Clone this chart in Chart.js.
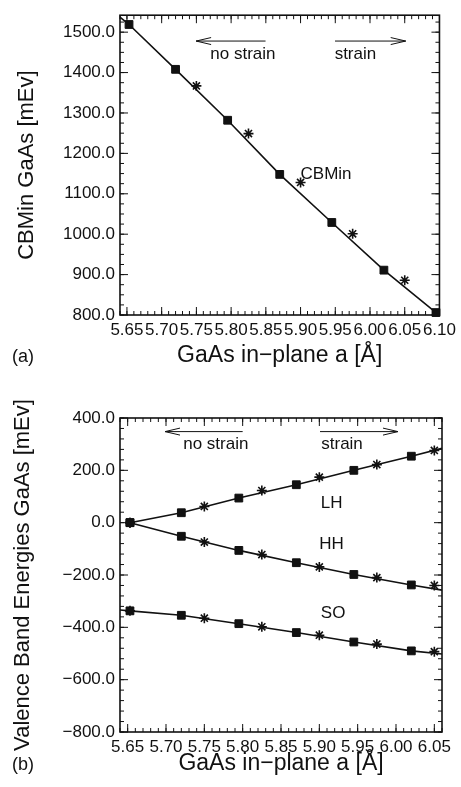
<!DOCTYPE html>
<html>
<head>
<meta charset="utf-8">
<script src="https://cdn.jsdelivr.net/npm/chart.js@4.4.0/dist/chart.umd.min.js"></script>
<style>
  html, body { margin: 0; padding: 0; background: #fff; }
  #wrapA { position: absolute; left: 0; top: 0; width: 461px; height: 385px; }
  #wrapB { position: absolute; left: 0; top: 385px; width: 461px; height: 402px; }
</style>
</head>
<body>
<div id="wrapA"><canvas id="chartA" width="461" height="385"></canvas></div>
<div id="wrapB"><canvas id="chartB" width="461" height="402"></canvas></div>
<script>
// ---- panel (a): conduction band minimum ----
const xTicksA = [5.65, 5.70, 5.75, 5.80, 5.85, 5.90, 5.95, 6.00, 6.05, 6.10];
const yTicksA = [800, 900, 1000, 1100, 1200, 1300, 1400, 1500];

const squaresAX = [5.653, 5.72, 5.795, 5.87, 5.945, 6.02, 6.095];
const squaresAY = [1519, 1408, 1282, 1148, 1029, 911, 806];
const starsAX = [5.75, 5.825, 5.90, 5.975, 6.05];
const starsAY = [1367, 1249, 1128, 1001, 886];
const curveAX = [5.64, 5.653, 5.72, 5.795, 5.87, 5.945, 6.02, 6.095, 6.10];
const curveAY = [1537, 1519, 1408, 1282, 1148, 1029, 911, 806, 800];

// ---- panel (b): valence band energies ----
const xTicksB = [5.65, 5.70, 5.75, 5.80, 5.85, 5.90, 5.95, 6.00, 6.05];
const yTicksB = [-800, -600, -400, -200, 0, 200, 400];

const squaresBX = [5.653, 5.72, 5.795, 5.87, 5.945, 6.02];
const starsBX = [5.653, 5.75, 5.825, 5.90, 5.975, 6.05];
const lhSquares = [0, 38, 94, 145, 200, 254];
const lhStars = [0, 62, 123, 174, 222, 276];
const hhSquares = [0, -52, -106, -153, -198, -238];
const hhStars = [0, -74, -122, -169, -210, -240];
const soSquares = [-337, -354, -386, -420, -456, -490];
const soStars = [-337, -365, -398, -430, -464, -493];

const curveBX = [5.653, 5.72, 5.795, 5.87, 5.945, 6.02, 6.06];
const lhCurve = [0, 38, 94, 145, 200, 254, 284];
const hhCurve = [0, -52, -106, -153, -198, -238, -258];
const soCurveX = [5.64, 5.653, 5.72, 5.795, 5.87, 5.945, 6.02, 6.06];
const soCurve = [-334, -337, -354, -386, -420, -456, -490, -502];

const FONT = 'Liberation Sans, Arial, Helvetica, sans-serif';
const INK = '#111';

function pts(xs, ys) {
    return xs.map((x, i) => ({ x: x, y: ys[i] }));
}

function fmtY(v) {
    return v < 0 ? '\u2212' + Math.abs(v).toFixed(1) : v.toFixed(1);
}

// frame, inward ticks on every side, arrows and labels
const decorPlugin = {
    id: 'decor',
    beforeDatasetsDraw(chart, args, opts) {
        const ctx = chart.ctx;
        const a = chart.chartArea;
        const xs = chart.scales.x, ys = chart.scales.y;
        ctx.save();
        ctx.strokeStyle = INK;
        ctx.lineWidth = 1;
        const tick = (x1, y1, x2, y2) => {
            ctx.beginPath(); ctx.moveTo(x1, y1); ctx.lineTo(x2, y2); ctx.stroke();
        };
        const steps = (min, max, step) => {
            const out = [];
            for (let k = Math.ceil(min / step - 1e-6); k * step <= max + 1e-9; k++) out.push(k * step);
            return out;
        };
        steps(xs.min, xs.max, opts.xMinor).forEach(v => {
            const p = xs.getPixelForValue(v);
            tick(p, a.bottom, p, a.bottom - 4); tick(p, a.top, p, a.top + 4);
        });
        opts.xMajor.forEach(v => {
            const p = xs.getPixelForValue(v);
            tick(p, a.bottom, p, a.bottom - 8); tick(p, a.top, p, a.top + 8);
        });
        steps(ys.min, ys.max, opts.yMinor).forEach(v => {
            const p = ys.getPixelForValue(v);
            tick(a.left, p, a.left + 4, p); tick(a.right, p, a.right - 4, p);
        });
        opts.yMajor.forEach(v => {
            const p = ys.getPixelForValue(v);
            tick(a.left, p, a.left + 8, p); tick(a.right, p, a.right - 8, p);
        });
        ctx.lineWidth = 1.6;
        ctx.strokeRect(a.left, a.top, a.right - a.left, a.bottom - a.top);

        // arrows
        ctx.lineWidth = 1;
        opts.arrows.forEach(ar => {
            const x1 = xs.getPixelForValue(ar.from), x2 = xs.getPixelForValue(ar.to);
            const y = ys.getPixelForValue(ar.y);
            const d = x2 > x1 ? -1 : 1;
            tick(x1, y, x2, y);
            tick(x2, y, x2 + d * 15, y - 3.5);
            tick(x2, y, x2 + d * 15, y + 3.5);
        });

        // text labels
        ctx.fillStyle = INK;
        ctx.font = '17px ' + FONT;
        ctx.textBaseline = 'middle';
        opts.notes.forEach(n => {
            ctx.textAlign = n.align || 'center';
            ctx.fillText(n.text, xs.getPixelForValue(n.x), ys.getPixelForValue(n.y));
        });
        ctx.font = '18px ' + FONT;
        ctx.textAlign = 'left';
        ctx.fillText(opts.panel, 12, opts.panelY);
        ctx.restore();
    }
};

function makeChart(id, cfg) {
    const tickFont = { family: FONT, size: 17 };
    return new Chart(document.getElementById(id), {
        type: 'scatter',
        data: { datasets: cfg.datasets },
        options: {
            responsive: false,
            animation: false,
            layout: { padding: cfg.padding },
            plugins: {
                legend: { display: false },
                tooltip: { enabled: false },
                decor: cfg.decor
            },
            scales: {
                x: {
                    type: 'linear',
                    min: cfg.xMin,
                    max: cfg.xMax,
                    grid: { display: false, drawTicks: false },
                    border: { display: false },
                    afterBuildTicks: s => { s.ticks = cfg.xTicks.map(v => ({ value: v })); },
                    afterFit: s => { s.height = cfg.xAxisHeight; },
                    ticks: {
                        autoSkip: false, maxRotation: 0, minRotation: 0, padding: 5,
                        font: tickFont, color: INK,
                        callback: v => Number(v).toFixed(2)
                    },
                    title: {
                        display: true,
                        text: 'GaAs in\u2212plane a [\u00C5]',
                        font: { family: FONT, size: 23, lineHeight: 1 },
                        color: INK,
                        padding: { top: 0, bottom: cfg.xTitlePad }
                    }
                },
                y: {
                    type: 'linear',
                    min: cfg.yMin,
                    max: cfg.yMax,
                    grid: { display: false, drawTicks: false },
                    border: { display: false },
                    afterBuildTicks: s => { s.ticks = cfg.yTicks.map(v => ({ value: v })); },
                    afterFit: s => { s.width = 120; },
                    ticks: {
                        padding: 5, font: tickFont, color: INK,
                        callback: v => fmtY(Number(v))
                    },
                    title: {
                        display: true,
                        text: cfg.yTitle,
                        font: { family: FONT, size: 22, lineHeight: 1 },
                        color: INK,
                        padding: { top: cfg.yTitlePad, bottom: 0 }
                    }
                }
            }
        },
        plugins: [decorPlugin]
    });
}

function curve(xs, ys) {
    return { data: pts(xs, ys), showLine: true, pointRadius: 0, borderColor: INK, borderWidth: 1.6, fill: false };
}
function squares(xs, ys) {
    return { data: pts(xs, ys), showLine: false, pointStyle: 'rect', pointRadius: 5.5,
             backgroundColor: INK, borderColor: INK, borderWidth: 1, clip: false };
}
function stars(xs, ys) {
    return { data: pts(xs, ys), showLine: false, pointStyle: 'star', pointRadius: 5,
             backgroundColor: INK, borderColor: INK, borderWidth: 1.6, clip: false };
}

makeChart('chartA', {
    xMin: 5.64, xMax: 6.10, yMin: 800, yMax: 1542,
    xTicks: xTicksA, yTicks: yTicksA,
    padding: { left: 0, right: 19, top: 13, bottom: 0 },
    xAxisHeight: 70, xTitlePad: 17.5, yTitlePad: 16,
    yTitle: 'CBMin GaAs [mEv]',
    datasets: [
        squares(squaresAX, squaresAY),
        stars(starsAX, starsAY),
        curve(curveAX, curveAY)
    ],
    decor: {
        xMinor: 0.01, yMinor: 25, xMajor: xTicksA, yMajor: yTicksA,
        arrows: [
            { from: 5.8496, to: 5.7496, y: 1478 },
            { from: 5.9496, to: 6.0514, y: 1478 }
        ],
        notes: [
            { text: 'no strain', x: 5.817, y: 1444 },
            { text: 'strain', x: 5.979, y: 1444 },
            { text: 'CBMin', x: 5.90, y: 1149, align: 'left' }
        ],
        panel: '(a)', panelY: 357
    }
});

makeChart('chartB', {
    xMin: 5.64, xMax: 6.06, yMin: -800, yMax: 400,
    xTicks: xTicksB, yTicks: yTicksB,
    padding: { left: 0, right: 19, top: 33, bottom: 0 },
    xAxisHeight: 55, xTitlePad: 12, yTitlePad: 12,
    yTitle: 'Valence Band Energies GaAs [mEv]',
    datasets: [
        squares(squaresBX, lhSquares),
        stars(starsBX, lhStars),
        squares(squaresBX, hhSquares),
        stars(starsBX, hhStars),
        squares(squaresBX, soSquares),
        stars(starsBX, soStars),
        curve(curveBX, lhCurve),
        curve(curveBX, hhCurve),
        curve(soCurveX, soCurve)
    ],
    decor: {
        xMinor: 0.01, yMinor: 40, xMajor: xTicksB, yMajor: yTicksB,
        arrows: [
            { from: 5.800, to: 5.6987, y: 348 },
            { from: 5.9009, to: 6.0026, y: 348 }
        ],
        notes: [
            { text: 'no strain', x: 5.765, y: 299 },
            { text: 'strain', x: 5.9296, y: 299 },
            { text: 'LH', x: 5.916, y: 74 },
            { text: 'HH', x: 5.916, y: -84 },
            { text: 'SO', x: 5.918, y: -346 }
        ],
        panel: '(b)', panelY: 380
    }
});
</script>
</body>
</html>
